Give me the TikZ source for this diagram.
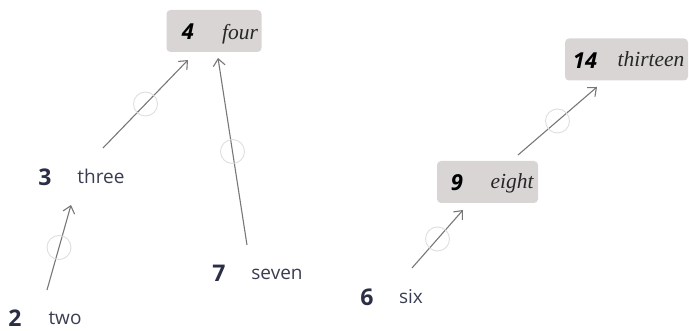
\documentclass[tikz,border=0pt]{standalone}
\usepackage{fontspec}
\usetikzlibrary{arrows.meta}
\newfontfamily\sansfont{Open Sans}
\newfontfamily\seriffont{Liberation Serif}
\definecolor{encre}{HTML}{2B2E45}
\definecolor{texte}{HTML}{3A3D52}
\definecolor{fond}{HTML}{D9D5D5}
\definecolor{trait}{HTML}{777777}
\definecolor{rondc}{HTML}{DEDEDE}
\tikzset{
  cadre/.style={fill=fond, rounded corners=4pt, minimum height=42, inner sep=0pt},
  num/.style={font=\sansfont\bfseries\fontsize{23}{23}\selectfont, text=encre, inner sep=0pt},
  numb/.style={font=\sansfont\bfseries\itshape\fontsize{22}{22}\selectfont, text=black, inner sep=0pt},
  mot/.style={font=\sansfont\fontsize{19}{19}\selectfont, text=texte, inner sep=0pt, anchor=base},
  motb/.style={font=\seriffont\itshape\fontsize{21.5}{21.5}\selectfont, text=black!85, inner sep=0pt, anchor=base},
  fleche/.style={draw=trait, line width=1.1pt, -{Straight Barb[length=7pt,width=12pt]}},
  rond/.style={circle, draw=rondc, line width=0.9pt, minimum size=24, inner sep=0pt},
}

\begin{document}
\begin{tikzpicture}[x=1pt, y=-1pt]
  \useasboundingbox (0,0) rectangle (689,331);

  %cadres gris
  \node[cadre, minimum width=95] (b4) at (214,31) {};
  \node[cadre, minimum width=101] (b9) at (487.5,182) {};
  \node[cadre, minimum width=123] (b14) at (626.5,59.5) {};

  %noeuds dans les cadres
  \node[numb] (d4) at (188,32) {4};
  \node[motb] (w4) at (240,40) {four};
  \node[numb] (d9) at (457,183) {9};
  \node[motb] (w9) at (512,189) {eight};
  \node[numb] (d14) at (585,61) {14};
  \node[motb] (w14) at (651,67) {thirteen};

  %noeuds libres
  \node[num] (d3) at (45,177) {3};
  \node[mot] (w3) at (101,184) {three};
  \node[num] (d2) at (15,318) {2};
  \node[mot] (w2) at (65,325) {two};
  \node[num] (d7) at (219,273) {7};
  \node[mot] (w7) at (277,280) {seven};
  \node[num] (d6) at (367,297) {6};
  \node[mot] (w6) at (411,304) {six};

  %fleches
  \draw[fleche] ([shift={(58,-29)}]d3.center) -- node[rond] (r1) {} ([shift={(0,28)}]d4.center);
  \draw[fleche] ([shift={(32,-28)}]d2.center) -- node[rond] (r2) {} ([shift={(26,28)}]d3.center);
  \draw[fleche] ([shift={(28,-28)}]d7.center) -- node[rond] (r3) {} ([shift={(30,26)}]d4.center);
  \draw[fleche] ([shift={(45,-29)}]d6.center) -- node[rond] (r4) {} ([shift={(6,27)}]d9.center);
  \draw[fleche] ([shift={(61,-28)}]d9.center) -- node[rond] (r5) {} ([shift={(12,26)}]d14.center);
\end{tikzpicture}
\end{document}
